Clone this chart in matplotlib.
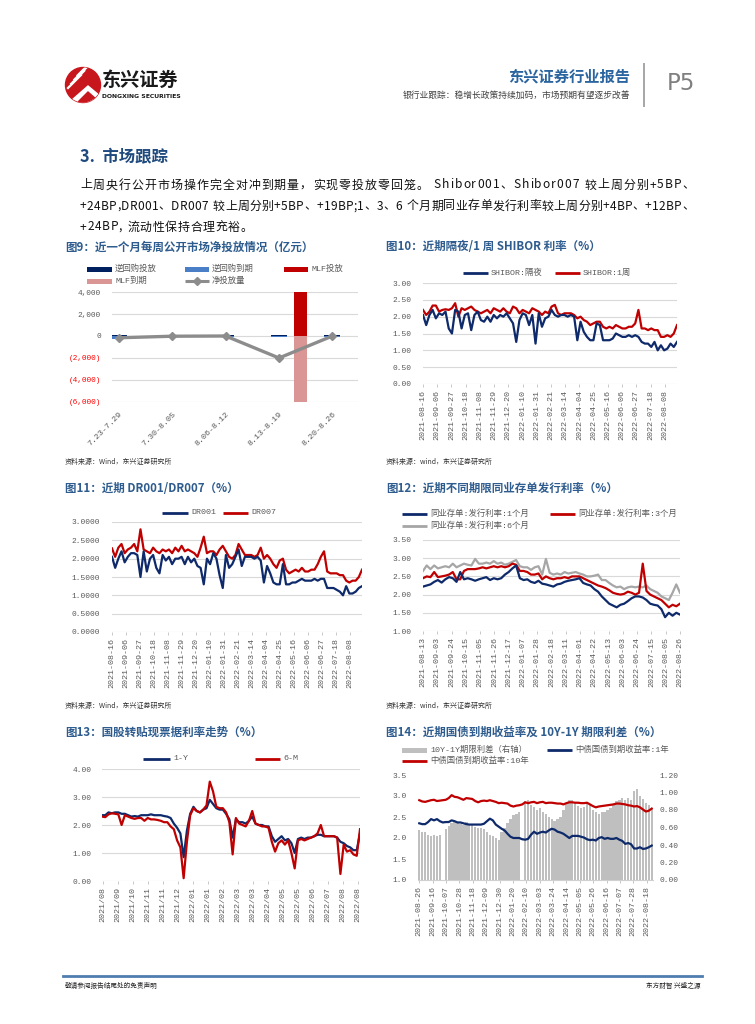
import numpy as np
import pandas as pd
import matplotlib
matplotlib.use('Agg')
import matplotlib.pyplot as plt
from matplotlib.lines import Line2D
from matplotlib.patches import Rectangle, Circle, Polygon

# ---------------- data ----------------
week_labels = ['7.23-7.29', '7.30-8.05', '8.06-8.12', '8.13-8.19', '8.20-8.26']
rr_inject = [130, 100, 100, 100, 100]
rr_mature = [-290, -120, -100, -100, -100]
mlf_inject = [0, 0, 0, 4000, 0]
mlf_mature = [0, 0, 0, -6000, 0]
net_injection = [-160, -20, 0, -2000, 0]

shibor_on = [2.05, 1.75, 2.05, 2.20, 1.95, 2.10, 2.05, 2.15, 1.65, 1.50,
             2.20, 2.15, 1.65, 2.05, 2.10, 1.60, 2.05, 2.15, 1.90, 1.85,
             2.00, 1.85, 2.05, 1.95, 2.05, 2.00, 2.10, 1.95, 1.80, 1.25,
             1.90, 2.10, 2.05, 1.75, 2.05, 1.20, 2.10, 1.70, 1.95, 2.00,
             2.20, 2.05, 2.00, 2.05, 2.05, 2.00, 2.05, 2.00, 1.30, 1.85,
             1.55, 1.40, 1.30, 1.30, 1.80, 1.75, 1.30, 1.30, 1.30, 1.35,
             1.50, 1.45, 1.40, 1.40, 1.45, 1.40, 1.45, 1.40, 1.25, 1.20,
             1.20, 1.10, 1.25, 1.00, 1.15, 1.00, 1.05, 1.20, 1.10, 1.25]
shibor_1w = [2.20, 2.05, 2.15, 2.33, 2.33, 2.15, 2.20, 2.22, 2.20, 2.25,
             2.40, 2.00, 2.25, 2.20, 2.25, 2.30, 2.20, 2.15, 2.10, 2.15,
             2.20, 2.10, 2.25, 2.20, 2.15, 2.25, 2.15, 2.10, 2.30, 2.25,
             2.10, 2.20, 2.15, 2.10, 2.25, 2.20, 2.15, 2.05, 2.15, 2.10,
             2.30, 2.35, 2.10, 2.05, 2.10, 2.10, 2.10, 2.05, 1.95, 2.00,
             1.90, 1.85, 1.75, 1.80, 1.85, 1.85, 1.70, 1.65, 1.70, 1.65,
             1.75, 1.70, 1.65, 1.65, 1.70, 1.70, 1.80, 2.20, 1.65, 1.65,
             1.60, 1.65, 1.60, 1.60, 1.40, 1.40, 1.45, 1.40, 1.50, 1.75]

dr001 = [2.05, 1.75, 2.00, 2.20, 1.90, 2.05, 2.15, 2.15, 2.10, 1.50,
         2.20, 1.65, 2.00, 2.10, 1.75, 1.60, 2.10, 1.95, 2.05, 1.85,
         2.00, 2.00, 2.05, 1.85, 2.05, 1.90, 2.00, 1.80, 1.75, 1.30,
         2.00, 1.85, 2.15, 2.00, 1.55, 1.20, 2.10, 1.75, 1.85, 2.05,
         2.25, 1.80, 2.05, 2.05, 2.05, 2.00, 2.05, 1.95, 1.35, 1.80,
         1.60, 1.35, 1.30, 1.30, 1.85, 1.30, 1.30, 1.35, 1.35, 1.40,
         1.45, 1.40, 1.40, 1.40, 1.45, 1.40, 1.45, 1.45, 1.20, 1.20,
         1.20, 1.15, 1.10, 1.00, 1.25, 1.05, 1.05, 1.10, 1.20, 1.25]
dr007 = [2.28, 2.05, 2.30, 2.40, 2.15, 2.25, 2.30, 2.40, 2.20, 2.80,
         2.25, 2.20, 2.15, 2.30, 2.20, 2.15, 2.25, 2.20, 2.25, 2.15,
         2.30, 2.20, 2.35, 2.20, 2.25, 2.20, 2.15, 2.05, 2.30, 2.60,
         2.15, 2.20, 2.20, 2.10, 2.25, 2.35, 2.20, 2.05, 2.00, 2.10,
         2.40, 2.25, 2.10, 2.10, 2.10, 2.05, 2.10, 2.30, 2.00, 2.10,
         2.00, 1.85, 1.75, 1.95, 2.00, 1.70, 1.60, 1.65, 1.70, 1.65,
         1.75, 1.65, 1.65, 1.70, 1.70, 1.85, 2.05, 2.20, 1.65, 1.60,
         1.60, 1.60, 1.55, 1.55, 1.40, 1.35, 1.40, 1.40, 1.50, 1.70]

ncd_1m = [2.22, 2.25, 2.28, 2.35, 2.40, 2.33, 2.42, 2.48, 2.45, 2.35,
          2.62, 2.42, 2.45, 2.42, 2.38, 2.42, 2.45, 2.48, 2.40, 2.45,
          2.42, 2.45, 2.55, 2.62, 2.72, 2.80, 2.45, 2.40, 2.42, 2.35,
          2.32, 2.38, 2.30, 2.28, 2.25, 2.22, 2.28, 2.30, 2.35, 2.38,
          2.40, 2.42, 2.45, 2.32, 2.28, 2.25, 2.15, 2.08, 1.95, 1.85,
          1.75, 1.70, 1.65, 1.72, 1.75, 1.82, 1.90, 1.95, 1.95, 1.92,
          1.85, 1.75, 1.72, 1.70, 1.60, 1.38, 1.50, 1.42, 1.50, 1.45]
ncd_3m = [2.45, 2.50, 2.48, 2.62, 2.48, 2.50, 2.52, 2.55, 2.62, 2.42,
          2.42, 2.65, 2.70, 2.70, 2.70, 2.72, 2.75, 2.72, 2.75, 2.78,
          2.75, 2.78, 2.75, 2.78, 2.85, 2.82, 2.65, 2.65, 2.62, 2.55,
          2.55, 2.58, 2.42, 2.50, 2.45, 2.42, 2.45, 2.45, 2.48, 2.45,
          2.50, 2.50, 2.50, 2.45, 2.40, 2.35, 2.30, 2.25, 2.22, 2.18,
          2.12, 2.05, 2.02, 2.00, 2.02, 2.08, 2.05, 2.00, 2.05, 2.85,
          2.10, 2.00, 1.95, 1.90, 1.85, 1.75, 1.65, 1.72, 1.68, 1.75]
ncd_6m = [2.65, 2.80, 2.70, 2.80, 2.72, 2.75, 2.78, 2.75, 2.85, 2.75,
          2.80, 2.85, 2.82, 2.80, 2.98, 2.85, 2.85, 2.88, 2.85, 2.92,
          2.85, 2.88, 2.82, 2.85, 2.90, 2.95, 2.78, 2.75, 2.75, 2.68,
          2.75, 2.78, 2.55, 2.98, 2.60, 2.55, 2.58, 2.55, 2.62, 2.58,
          2.60, 2.62, 2.58, 2.55, 2.50, 2.50, 2.52, 2.55, 2.40, 2.40,
          2.32, 2.25, 2.20, 2.22, 2.15, 2.20, 2.22, 2.20, 2.22, 2.20,
          2.25, 2.15, 2.10, 2.05, 1.95, 1.90, 1.85, 2.05, 2.28, 2.05]

bill_1y = [2.35, 2.35, 2.45, 2.42, 2.45, 2.45, 2.40, 2.40, 2.35, 2.30,
           2.32, 2.30, 2.35, 2.35, 2.35, 2.38, 2.35, 2.35, 2.35, 2.32,
           2.30, 2.25, 2.05, 1.90, 1.70, 0.85, 1.80, 2.40, 2.65, 2.50,
           2.45, 2.55, 2.60, 2.90, 2.75, 2.60, 2.55, 2.55, 2.40, 2.20,
           1.55, 2.20, 2.10, 2.10, 2.05, 2.15, 2.30, 2.05, 2.00, 2.00,
           1.95, 1.95, 1.60, 1.40, 1.50, 1.60, 1.45, 1.50, 1.35, 1.00,
           1.50, 1.55, 1.50, 1.55, 1.55, 1.60, 1.65, 1.65, 1.60, 1.60,
           1.60, 1.60, 1.55, 1.40, 1.35, 1.25, 1.20, 1.10, 1.10, 1.70]
bill_6m = [2.30, 2.28, 2.38, 2.42, 2.40, 2.38, 2.00, 2.35, 2.30, 2.25,
           2.22, 2.25, 2.25, 2.15, 2.25, 2.20, 2.20, 2.18, 2.15, 2.10,
           2.10, 1.95, 1.85, 1.45, 1.20, 0.10, 1.40, 2.35, 2.60, 2.50,
           2.45, 2.55, 2.70, 3.55, 3.20, 2.65, 2.60, 2.60, 2.45, 2.10,
           0.95, 2.25, 2.05, 2.00, 1.95, 2.15, 2.50, 2.05, 2.00, 1.95,
           1.95, 1.90, 1.40, 1.05, 1.35, 1.45, 1.30, 1.45, 1.00, 0.45,
           1.45, 1.50, 1.45, 1.50, 1.55, 1.60, 1.70, 2.00, 1.60, 1.60,
           1.60, 1.60, 1.55, 0.25, 1.30, 1.05, 1.10, 0.95, 0.90, 1.85]

spread_10y1y = [0.57, 0.55, 0.55, 0.52, 0.50, 0.52, 0.50, 0.52, None, 0.58,
                0.62, 0.65, 0.66, 0.65, 0.64, 0.63, 0.66, 0.64, 0.63, 0.61,
                0.60, 0.60, 0.58, 0.55, 0.52, 0.50, 0.48, 0.46, 0.55, 0.60,
                0.65, 0.70, 0.74, 0.76, 0.78, None, 0.90, 0.92, 0.86, 0.84,
                0.80, 0.82, 0.78, 0.76, 0.72, 0.70, 0.68, 0.70, 0.72, 0.80,
                0.88, 0.92, 0.92, 0.88, 0.85, 0.82, 0.84, 0.88, 0.86, 0.80,
                0.78, 0.76, 0.78, 0.78, 0.80, 0.82, 0.86, 0.90, 0.92, 0.94,
                0.91, 0.94, 0.92, 1.02, 1.04, 0.96, 0.93, 0.88, 0.86, 0.82]
yield_1y = [2.35, 2.33, 2.33, 2.38, 2.45, 2.42, 2.45, 2.40, 2.37, 2.38,
            2.38, 2.42, 2.40, 2.37, 2.37, 2.35, 2.33, 2.32, 2.32, 2.32,
            2.32, 2.32, 2.34, 2.40, 2.46, 2.42, 2.32, 2.27, 2.22, 2.18,
            2.10, 2.03, 2.00, 2.00, 2.00, 1.97, 1.96, 1.98, 2.08, 2.15,
            2.10, 2.13, 2.15, 2.13, 2.18, 2.22, 2.20, 2.15, 2.13, 2.10,
            2.05, 2.00, 2.05, 2.05, 2.05, 2.03, 2.01, 1.97, 1.95, 1.96,
            1.94, 2.00, 2.02, 1.98, 2.00, 1.98, 1.98, 2.00, 1.96, 1.93,
            1.86, 1.88, 1.85, 1.75, 1.75, 1.78, 1.74, 1.75, 1.78, 1.82]
yield_10y = [2.90, 2.87, 2.86, 2.88, 2.90, 2.91, 2.88, 2.89, 2.90, 2.91,
             2.95, 3.02, 2.98, 2.97, 2.94, 2.91, 2.95, 2.94, 2.93, 2.88,
             2.85, 2.88, 2.89, 2.88, 2.90, 2.88, 2.86, 2.83, 2.84, 2.83,
             2.82, 2.77, 2.75, 2.77, 2.78, 2.80, 2.85, 2.83, 2.85, 2.86,
             2.83, 2.85, 2.86, 2.83, 2.84, 2.84, 2.83, 2.82, 2.82, 2.80,
             2.83, 2.85, 2.85, 2.84, 2.84, 2.83, 2.83, 2.84, 2.80, 2.76,
             2.73, 2.75, 2.76, 2.77, 2.78, 2.79, 2.80, 2.82, 2.82, 2.81,
             2.80, 2.78, 2.77, 2.75, 2.76, 2.73, 2.68, 2.63, 2.65, 2.70]

para_lines = ["上周央行公开市场操作完全对冲到期量，实现零投放零回笼。 Shibor001、Shibor007 较上周分别+5BP、",
              "+24BP,DR001、DR007 较上周分别+5BP、+19BP;1、3、6 个月期同业存单发行利率较上周分别+4BP、+12BP、",
              "+24BP, 流动性保持合理充裕。"]

# ---------------- figure helpers ----------------
W, H = 755, 1024
fig = plt.figure(figsize=(W / 100, H / 100), dpi=100)
fig.patch.set_facecolor('white')
CJK = 'Noto Sans CJK SC'
TICK = ['Liberation Mono', 'Noto Sans CJK SC']
NAVY = '#0E2A6B'
RED = '#C00000'
LGRAY = '#A6A6A6'
TITLEC = '#2E5C8E'
GRID = '#D9D9D9'
LAB = '#595959'


def fx(x):
    return x / W


def fy(y):
    return 1 - y / H


def txt(x, y, s, **kw):
    kw.setdefault('family', CJK)
    kw.setdefault('va', 'center')
    return fig.text(fx(x), fy(y), s, **kw)


def ax_px(l, t, r, b):
    return fig.add_axes([l / W, 1 - b / H, (r - l) / W, (b - t) / H])


def fline(x0, x1, y0, y1, color, lw, **kw):
    fig.add_artist(Line2D([fx(x0), fx(x1)], [fy(y0), fy(y1)], color=color, lw=lw,
                          transform=fig.transFigure, **kw))


def frect(x0, y0, w, h, color):
    fig.add_artist(Rectangle((fx(x0), fy(y0 + h)), w / W, h / H, facecolor=color, lw=0,
                             transform=fig.transFigure))


def leg_line(x0, x1, y, color, label, lw=2.0, size=6.0, marker=None):
    fline(x0, x1, y, y, color, lw, solid_capstyle='butt')
    if marker:
        fig.add_artist(Line2D([fx((x0 + x1) / 2)], [fy(y)], marker=marker, ms=4, color=color,
                              transform=fig.transFigure))
    txt(x1 + 3, y, label, family=TICK, fontsize=size, color=LAB)


def leg_rect(x0, x1, y, color, label, h=5, size=6.0):
    frect(x0, y - h / 2, x1 - x0, h, color)
    txt(x1 + 3, y, label, family=TICK, fontsize=size, color=LAB)


def ts_axes(rect, dstart, dend, tstart, nticks, tfmt, ylim, yticks, yfmt, ypad, grid=True):
    ax = ax_px(*rect)
    for s in ax.spines.values():
        s.set_visible(False)
    ax.set_xlim(pd.Timestamp(dstart), pd.Timestamp(dend))
    ax.set_ylim(*ylim)
    ax.set_yticks(yticks)
    ax.set_yticklabels([yfmt.format(v) for v in yticks], family=TICK, fontsize=5.7, color=LAB)
    ax.tick_params(axis='y', length=0, pad=ypad)
    td = pd.date_range(tstart, periods=nticks, freq='21D')
    ax.set_xticks(td)
    ax.set_xticklabels([d.strftime(tfmt) for d in td], rotation=90, family=TICK,
                       fontsize=6.0, color=LAB, va='top', ha='center')
    ax.tick_params(axis='x', length=2.5, width=0.6, color='#BFBFBF', pad=1.5)
    if grid:
        ax.yaxis.grid(True, color=GRID, lw=0.8)
        ax.set_axisbelow(True)
    ax.set_facecolor('none')
    return ax


# ---------------- header ----------------
lax = ax_px(64, 66, 102, 104)
lax.set_xlim(0, 38)
lax.set_ylim(38, 0)
lax.axis('off')
circ = Circle((19, 19), 17.5, color='#C8161D')
lax.add_patch(circ)
for k in range(4):
    ln = Line2D([4 + k * 3.2, 17 + k * 3.2], [22 - k * 4.2, 9 - k * 4.2], color='white', lw=1.6)
    ln.set_clip_path(circ)
    lax.add_line(ln)
tri = Polygon([[8, 34], [24, 20], [36, 30], [30, 38], [10, 38]], closed=True, color='white')
tri.set_clip_path(circ)
lax.add_patch(tri)
tri2 = Polygon([[14, 36], [24, 26], [32, 33], [26, 38]], closed=True, color='#C8161D')
tri2.set_clip_path(circ)
lax.add_patch(tri2)

txt(102, 80, '东兴证券', fontsize=13.8, fontweight='heavy', color='#1A1A1A')
txt(102, 96, 'DONGXING SECURITIES', family='DejaVu Sans', fontsize=4.4, fontweight='bold', color='#1A1A1A')
txt(630, 77, '东兴证券行业报告', fontsize=11.0, fontweight='bold', color='#2B65A0', ha='right')
txt(630, 95, '银行业跟踪：稳增长政策持续加码，市场预期有望逐步改善', fontsize=6.3, color='#404040', ha='right')
fline(644, 644, 64, 106, '#A6A6A6', 1.4)
txt(667, 84, 'P5', family='DejaVu Sans', fontsize=16.5, color='#7F7F7F')

# ---------------- section + paragraph ----------------
txt(80, 157, '3.  市场跟踪', fontsize=11.8, fontweight='bold', color='#1F4A7D')

renderer = fig.canvas.get_renderer()


def layout_line(x0, y, s, size, x1=None, extra=None):
    ts, ws = [], []
    for c in s:
        if c == ' ':
            ts.append(None)
            ws.append(size * 100 / 72 * 0.3)
        else:
            t = fig.text(0, 0, c, fontsize=size, family=CJK, va='center', color='#111111')
            ts.append(t)
            ws.append(t.get_window_extent(renderer).width)
    if extra is None:
        extra = (x1 - x0 - sum(ws)) / (len(s) - 1)
    x = x0
    for t, w in zip(ts, ws):
        if t is not None:
            t.set_position((fx(x), fy(y)))
        x += w + extra
    return extra


e1 = layout_line(80, 185, para_lines[0], 8.6, x1=694)
e2 = layout_line(80, 206, para_lines[1], 8.6, x1=694)
layout_line(80, 227, para_lines[2], 8.6, extra=(e1 + e2) / 2)

# ---------------- chart 9 ----------------
txt(65, 247, '图9：近一个月每周公开市场净投放情况（亿元）', fontsize=8.3, fontweight='bold', color=TITLEC)
leg_rect(87, 112, 269, '#002060', '逆回购投放')
leg_rect(185, 209, 269, '#4A7EC7', '逆回购到期')
leg_rect(284, 308, 269, RED, 'MLF投放')
leg_rect(87, 112, 281, '#DA9694', 'MLF到期')
leg_line(185, 209, 281, '#8C8C8C', '净投放量', lw=2.2, marker='D')

ax9 = ax_px(112, 292, 358, 402)
for s in ax9.spines.values():
    s.set_visible(False)
x9 = np.arange(len(week_labels))
ax9.bar(x9, rr_inject, width=0.3, color='#002060', zorder=3)
ax9.bar(x9, rr_mature, width=0.3, color='#4A7EC7', zorder=3)
ax9.bar(x9 + 0.4, mlf_inject, width=0.25, color=RED, zorder=3)
ax9.bar(x9 + 0.4, mlf_mature, width=0.25, color='#DA9694', zorder=3)
ax9.plot(x9, net_injection, color='#8C8C8C', lw=2.4, marker='D', ms=4.5, zorder=4)
ax9.set_ylim(-6000, 4000)
ax9.set_xlim(-0.13, 4.48)
yt9 = [4000, 2000, 0, -2000, -4000, -6000]
ax9.set_yticks(yt9)
ax9.set_yticklabels([f'{v:,}' if v >= 0 else f'({-v:,})' for v in yt9], family=TICK, fontsize=5.6)
for lab, v in zip(ax9.get_yticklabels(), yt9):
    lab.set_color('#FF0000' if v < 0 else LAB)
ax9.yaxis.grid(True, color=GRID, lw=0.8)
ax9.set_axisbelow(True)
ax9.set_xticks(x9)
ax9.set_xticklabels(week_labels, rotation=45, ha='right', va='top', rotation_mode='anchor',
                    family=TICK, fontsize=6.0, color=LAB)
ax9.tick_params(length=0, pad=6)
ax9.tick_params(axis='y', pad=8)
txt(65, 462, '资料来源：Wind，东兴证券研究所', fontsize=5.0, color='#333333', style='italic')

# ---------------- chart 10 ----------------
txt(386, 247, '图10：近期隔夜/1 周 SHIBOR 利率（%）', fontsize=8.3, fontweight='bold', color=TITLEC)
leg_line(463, 488, 273, NAVY, 'SHIBOR:隔夜')
leg_line(555, 580, 273, RED, 'SHIBOR:1周')
d10 = pd.date_range('2021-08-16', '2022-08-26', periods=len(shibor_on))
ax10 = ts_axes((423, 283, 677, 384), '2021-08-16', '2022-08-26', '2021-08-16', 18, '%Y-%m-%d',
               (0, 3), [0, 0.5, 1, 1.5, 2, 2.5, 3], '{:.2f}', 8)
ax10.plot(d10, shibor_1w, color=RED, lw=1.6)
ax10.plot(d10, shibor_on, color=NAVY, lw=1.6)
txt(386, 462, '资料来源：wind，东兴证券研究所', fontsize=5.0, color='#333333', style='italic')

# ---------------- chart 11 ----------------
txt(65, 488, '图11：近期 DR001/DR007（%）', fontsize=8.3, fontweight='bold', color=TITLEC)
leg_line(162, 188, 513, NAVY, 'DR001')
leg_line(223, 248, 513, RED, 'DR007')
d11 = pd.date_range('2021-08-16', '2022-08-26', periods=len(dr001))
ax11 = ts_axes((112, 522, 362, 632), '2021-08-16', '2022-08-26', '2021-08-16', 18, '%Y-%m-%d',
               (0, 3), [0, 0.5, 1, 1.5, 2, 2.5, 3], '{:.4f}', 8.5)
ax11.plot(d11, dr007, color=RED, lw=1.6)
ax11.plot(d11, dr001, color=NAVY, lw=1.6)
txt(65, 706, '资料来源：Wind，东兴证券研究所', fontsize=5.0, color='#333333', style='italic')

# ---------------- chart 12 ----------------
txt(386, 488, '图12：近期不同期限同业存单发行利率（%）', fontsize=8.3, fontweight='bold', color=TITLEC)
leg_line(402, 427, 514, NAVY, '同业存单:发行利率:1个月')
leg_line(550, 575, 514, RED, '同业存单:发行利率:3个月')
leg_line(402, 427, 526, LGRAY, '同业存单:发行利率:6个月')
d12 = pd.date_range('2021-08-13', '2022-08-26', periods=len(ncd_1m))
ax12 = ts_axes((423, 540, 680, 631), '2021-08-13', '2022-08-26', '2021-08-13', 19, '%Y-%m-%d',
               (1, 3.5), [1, 1.5, 2, 2.5, 3, 3.5], '{:.2f}', 8)
ax12.plot(d12, ncd_6m, color=LGRAY, lw=1.6)
ax12.plot(d12, ncd_3m, color=RED, lw=1.6)
ax12.plot(d12, ncd_1m, color=NAVY, lw=1.6)
txt(386, 706, '资料来源：wind，东兴证券研究所', fontsize=5.0, color='#333333', style='italic')

# ---------------- chart 13 ----------------
txt(65, 732, '图13：国股转贴现票据利率走势（%）', fontsize=8.3, fontweight='bold', color=TITLEC)
leg_line(143, 170, 759, NAVY, '1-Y')
leg_line(255, 280, 759, RED, '6-M')
d13 = pd.date_range('2021-08-30', '2022-08-26', periods=len(bill_1y))
ax13 = ts_axes((102, 769, 360, 881), '2021-08-30', '2022-08-26', '2021-08-31', 18, '%Y/%m',
               (0, 4), [0, 1, 2, 3, 4], '{:.2f}', 7.5)
ax13.plot(d13, bill_1y, color=NAVY, lw=1.6)
ax13.plot(d13, bill_6m, color=RED, lw=1.6)

# ---------------- chart 14 ----------------
txt(386, 732, '图14：近期国债到期收益率及 10Y-1Y 期限利差（%）', fontsize=8.3, fontweight='bold', color=TITLEC)
leg_rect(402, 427, 750, '#BFBFBF', '10Y-1Y期限利差（右轴）', h=5)
leg_line(547, 572, 750, NAVY, '中债国债到期收益率:1年')
leg_line(402, 427, 761, RED, '中债国债到期收益率:10年')
d14 = pd.date_range('2021-08-26', '2022-08-26', periods=len(yield_1y))
spread_arr = np.array([np.nan if v is None else v for v in spread_10y1y], dtype=float)
ax14b = ts_axes((418, 775, 653, 880), '2021-08-24', '2022-08-28', '2021-08-26', 18, '%Y-%m-%d',
                (0, 1.2), [0, 0.2, 0.4, 0.6, 0.8, 1.0, 1.2], '{:.2f}', 4, grid=False)
ax14b.bar(d14, spread_arr, width=3.7, color='#BFBFBF', lw=0)
ax14b.spines['bottom'].set_visible(True)
ax14b.spines['bottom'].set_color('#D0D0D0')
ax14l = ax14b.twinx()
for s in ax14l.spines.values():
    s.set_visible(False)
ax14b.yaxis.tick_right()
ax14b.yaxis.set_label_position('right')
ax14b.tick_params(axis='y', length=0, pad=5, labelright=True, labelleft=False)
ax14l.yaxis.tick_left()
ax14l.set_ylim(1.0, 3.5)
yt14 = [1.0, 1.5, 2.0, 2.5, 3.0, 3.5]
ax14l.set_yticks(yt14)
ax14l.set_yticklabels(['{:.1f}'.format(v) for v in yt14], family=TICK, fontsize=5.7, color=LAB)
ax14l.tick_params(axis='y', length=0, pad=8, labelleft=True, labelright=False)
ax14l.plot(d14, yield_10y, color=RED, lw=1.6)
ax14l.plot(d14, yield_1y, color=NAVY, lw=1.6)

# ---------------- footer ----------------
fline(63, 702, 976, 976, '#4F7DAF', 2.0)
txt(65, 986, '敬请参阅报告结尾处的免责声明', fontsize=4.8, color='#222222')
txt(700, 986, '东方财智 兴盛之源', fontsize=4.8, color='#222222', ha='right')

fig.savefig('out.png', dpi=100)
